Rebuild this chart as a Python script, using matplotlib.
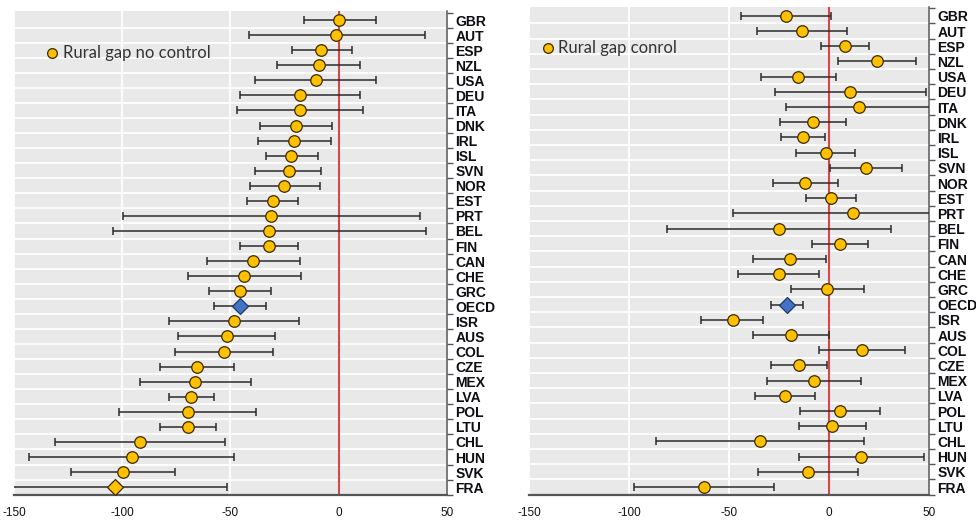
import matplotlib.pyplot as plt
from matplotlib.ticker import FixedLocator, NullFormatter

countries = ["GBR", "AUT", "ESP", "NZL", "USA", "DEU", "ITA", "DNK", "IRL", "ISL",
             "SVN", "NOR", "EST", "PRT", "BEL", "FIN", "CAN", "CHE", "GRC", "OECD",
             "ISR", "AUS", "COL", "CZE", "MEX", "LVA", "POL", "LTU", "CHL", "HUN",
             "SVK", "FRA"]

# left panel: rural gap, no control
gap_nc = [0.3, -1.2, -8.0, -9.2, -10.5, -17.7, -17.8, -19.7, -20.6, -22.0,
          -23.2, -25.1, -30.6, -31.2, -32.0, -32.2, -39.5, -43.8, -45.4, -45.7,
          -48.5, -51.8, -53.2, -65.4, -66.3, -68.2, -69.8, -69.8, -91.8, -95.7,
          -99.8, -103.4]
low_nc = [-16.2, -41.5, -21.8, -28.3, -38.5, -45.4, -46.8, -36.6, -37.5, -33.8,
          -38.5, -41.2, -42.3, -99.8, -104.3, -45.8, -60.8, -69.8, -59.8, -57.7,
          -78.5, -74.2, -75.8, -82.5, -91.7, -78.5, -101.7, -82.6, -131.0, -142.9,
          -123.7, -160.0]
high_nc = [17.2, 39.7, 6.3, 10.0, 17.2, 10.0, 11.2, -2.9, -3.4, -9.5,
           -8.2, -8.5, -18.8, 37.5, 40.3, -18.8, -18.0, -17.4, -31.1, -33.7,
           -18.3, -29.5, -30.5, -48.2, -40.6, -57.5, -38.3, -56.9, -52.6, -48.5,
           -75.8, -51.8]

# right panel: rural gap, with controls
gap_c = [-21.3, -13.5, 8.2, 24.0, -15.3, 10.7, 14.8, -8.2, -13.0, -1.7,
         18.3, -11.8, 1.0, 12.2, -25.0, 5.5, -19.5, -25.2, -1.0, -21.0,
         -48.0, -19.2, 16.7, -14.8, -7.5, -21.8, 5.5, 1.7, -34.5, 16.2,
         -10.3, -62.5]
low_c = [-43.8, -36.0, -4.2, 4.5, -33.8, -27.2, -21.3, -24.5, -23.8, -16.5,
         0.5, -28.0, -11.3, -47.8, -81.2, -8.3, -37.8, -45.3, -19.2, -28.8,
         -63.8, -38.2, -4.8, -29.0, -30.8, -36.8, -14.7, -14.8, -86.5, -15.2,
         -35.7, -97.7]
high_c = [1.2, 9.0, 20.0, 43.3, 3.5, 48.7, 56.0, 8.5, -2.0, 13.2,
          36.3, 4.3, 13.5, 58.0, 30.8, 19.3, -1.3, -5.2, 17.7, -13.0,
          -32.8, 0.0, 37.8, -0.8, 16.0, -6.8, 25.7, 18.7, 17.3, 47.3,
          14.5, -27.5]

legend_nc = "Rural gap no control"
legend_c = "Rural gap conrol"

YELLOW = "#FFC000"
BLUE = "#4472C4"
BG = "#E9E9E9"
RED = "#D44848"


def draw_panel(ax, vals, lows, highs, label, diamond_rows, ylim, leg_pos):
    n = len(countries)
    ax.set_facecolor(BG)
    ax.set_xlim(-150, 50)
    ax.set_ylim(*ylim)
    ax.set_xticks([-150, -100, -50, 0, 50])
    ax.set_xticklabels(["-150", "-100", "-50", "0", "50"],
                       fontfamily="Liberation Sans", fontsize=8.5, color="#111111")
    ax.tick_params(axis="x", length=0, pad=9)
    ax.grid(axis="x", color="white", lw=1.3)
    for k in range(n - 1):
        ax.axhline(k + 0.5, color="white", lw=1.3, zorder=0.5)
    ax.set_axisbelow(True)

    ax.axvline(0, color=RED, lw=1.5, zorder=2)

    for i in range(n):
        v, lo, hi = vals[i], lows[i], highs[i]
        ax.errorbar([v], [i], xerr=[[v - lo], [hi - v]], fmt="none",
                    ecolor="#2b2b2b", elinewidth=1.1, capsize=3.2,
                    capthick=1.1, zorder=3, clip_on=True)
        if countries[i] == "OECD":
            ax.plot(v, i, marker="D", ms=8, mfc=BLUE, mec="#1f3864",
                    mew=0.9, zorder=4)
        elif i in diamond_rows:
            ax.plot(v, i, marker="D", ms=8, mfc=YELLOW, mec="#3a2a00",
                    mew=0.9, zorder=4)
        else:
            ax.plot(v, i, marker="o", ms=8.3, mfc=YELLOW, mec="#3a2a00",
                    mew=0.9, zorder=4)

    ax.yaxis.tick_right()
    ax.yaxis.set_major_locator(FixedLocator([k - 0.5 for k in range(n + 1)]))
    ax.yaxis.set_major_formatter(NullFormatter())
    ax.yaxis.set_minor_locator(FixedLocator(list(range(n))))
    ax.set_yticklabels(countries, minor=True, fontfamily="Liberation Sans",
                       fontweight="bold", fontsize=10, color="#0d0d14")
    ax.tick_params(axis="y", which="major", length=4, width=1, color="#555555")
    ax.tick_params(axis="y", which="minor", length=0, pad=6)

    for s in ["left", "top"]:
        ax.spines[s].set_visible(False)
    ax.spines["right"].set_color("#555555")
    ax.spines["right"].set_linewidth(1.1)
    ax.spines["bottom"].set_color("#555555")
    ax.spines["bottom"].set_linewidth(1.6)

    lx, ly = leg_pos
    ax.plot(lx, ly, marker="o", ms=7, mfc=YELLOW, mec="#3a2a00", mew=0.9,
            transform=ax.transAxes, clip_on=False, zorder=5)
    ax.text(lx + 0.025, ly, label, transform=ax.transAxes, va="center",
            ha="left", fontfamily="Lato", fontsize=12, color="#333333")


fig = plt.figure(figsize=(9.76, 5.2), dpi=100)
ax1 = fig.add_axes([14 / 976, 1 - 495 / 520, 433 / 976, 484 / 520])
ax2 = fig.add_axes([529 / 976, 1 - 495 / 520, 400 / 976, 488 / 520])

draw_panel(ax1, gap_nc, low_nc, high_nc, legend_nc, [31], (31.52, -0.6),
           (0.088, 0.913))
draw_panel(ax2, gap_c, low_c, high_c, legend_c, [], (31.52, -0.58),
           (0.047, 0.916))

fig.savefig("out.png", dpi=100)
